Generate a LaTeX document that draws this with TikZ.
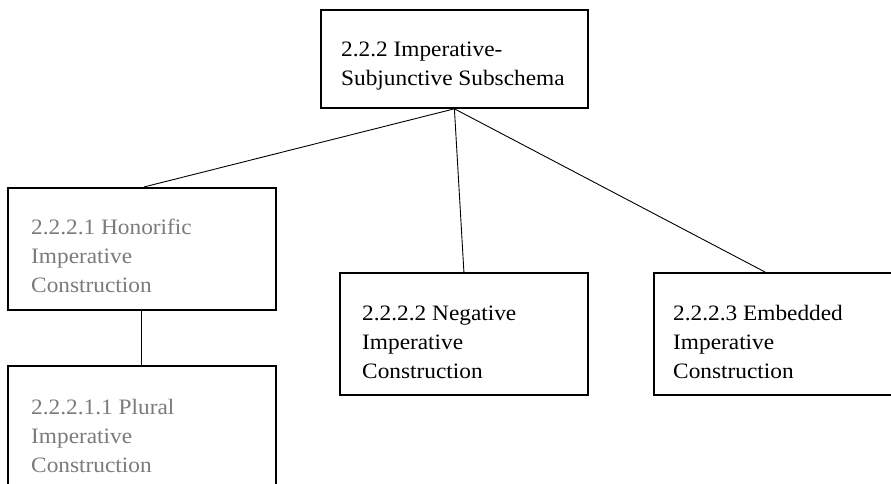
\documentclass[tikz,border=0pt]{standalone}
\usepackage{fontspec}
\setmainfont{Liberation Serif}[FakeStretch=1.06]
\usepackage{xcolor}
\definecolor{greytext}{RGB}{125,122,122}
\begin{document}
\begin{tikzpicture}[x=1pt,y=-1pt,
  box/.style={draw=black, line width=1.8pt, inner sep=0pt, anchor=north west, rectangle},
  lbl/.style={anchor=base west, inner sep=0pt, font=\fontsize{22}{29}\selectfont},
  conn/.style={draw=black, line width=0.9pt}]
\useasboundingbox (0,0) rectangle (891,484);
\clip (0,0) rectangle (891,484);
\fill[white] (0,0) rectangle (891,484);
% boxes
\node[box, minimum width=267pt, minimum height=98pt] (top) at (320,9) {};
\node[box, minimum width=268pt, minimum height=122pt] (hon) at (7,187) {};
\node[box, minimum width=268pt, minimum height=140pt] (plu) at (7,365) {};
\node[box, minimum width=248pt, minimum height=122pt] (neg) at (339,272) {};
\node[box, minimum width=248pt, minimum height=122pt] (emb) at (653,272) {};
% texts
\node[lbl] (ttop) at (341,57) {\begin{tabular}[t]{@{}l@{}}2.2.2 Imperative-\\Subjunctive Subschema\end{tabular}};
\node[lbl, text=greytext] (thon) at (31,234) {\begin{tabular}[t]{@{}l@{}}2.2.2.1 Honorific\\Imperative\\Construction\end{tabular}};
\node[lbl, text=greytext] (tplu) at (31,414) {\begin{tabular}[t]{@{}l@{}}2.2.2.1.1 Plural\\Imperative\\Construction\end{tabular}};
\node[lbl] (tneg) at (362,320) {\begin{tabular}[t]{@{}l@{}}2.2.2.2 Negative\\Imperative\\Construction\end{tabular}};
\node[lbl] (temb) at (673,320) {\begin{tabular}[t]{@{}l@{}}2.2.2.3 Embedded\\Imperative\\Construction\end{tabular}};
% connectors
\coordinate (honin) at ([xshift=2pt]hon.north);
\coordinate (embin) at ([xshift=112pt]emb.north west);
\draw[conn] (top.south) -- (honin);
\draw[conn] (top.south) -- (neg.north);
\draw[conn] (top.south) -- (embin);
\draw[conn] (hon.south) -- (plu.north);
\end{tikzpicture}
\end{document}
